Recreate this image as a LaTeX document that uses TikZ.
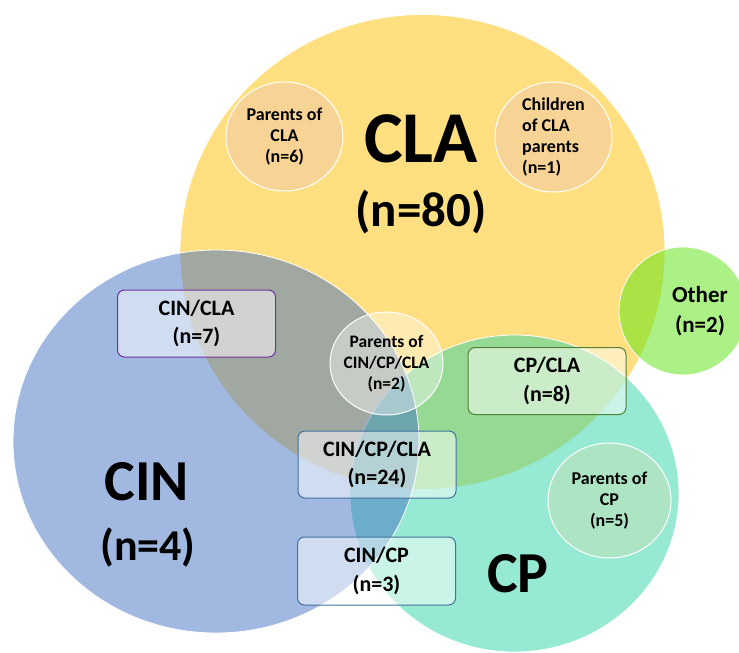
\documentclass[tikz,border=0pt]{standalone}
\usepackage{fontspec}
\setmainfont{Carlito}
\usetikzlibrary{shapes.geometric}
\definecolor{clagold}{RGB}{255,192,0}
\definecolor{cinblue}{RGB}{68,114,196}
\definecolor{cpteal}{RGB}{45,211,167}
\definecolor{othergreen}{RGB}{88,228,14}
\definecolor{parentorange}{RGB}{248,211,150}
\definecolor{parentteal}{RGB}{172,228,196}
\definecolor{boxpurple}{RGB}{112,48,160}
\definecolor{boxblue}{RGB}{65,113,156}
\definecolor{boxgreen}{RGB}{84,130,53}

\begin{document}
\begin{tikzpicture}[x=1pt,y=-1pt,
    set node/.style={ellipse,draw=white,line width=0.8pt,fill opacity=0.5,inner sep=0pt},
    small node/.style={ellipse,draw=white,line width=1pt,inner sep=0pt,align=center,
      font=\fontsize{18}{21}\selectfont\bfseries},
    group box/.style={rectangle,rounded corners=7pt,line width=1pt,fill=white,fill opacity=0.5,
      text opacity=1,minimum width=158pt,minimum height=67pt,align=center,
      font=\fontsize{22}{28.5}\selectfont\bfseries}]
  \useasboundingbox (0,0) rectangle (739,653);

  % the three sets and the extra group
  \node[set node,fill=clagold,minimum width=485pt,minimum height=475pt] (cla) at (422.5,252) {};
  \node[set node,fill=cpteal,minimum width=329pt,minimum height=317pt] (cp) at (514.5,493.5) {};
  \node[set node,fill=cinblue,minimum width=406pt,minimum height=383pt] (cin) at (216,441.5) {};
  \node[set node,fill=othergreen,minimum width=128pt,minimum height=128pt] (other) at (683,311) {};

  % sub groups
  \node[small node,fill=parentorange,minimum width=117pt,minimum height=109pt] (parcla) at (284.5,136.5) {Parents of\\CLA\\(n=6)};
  \node[small node,fill=parentorange,minimum width=117pt,minimum height=110pt] (chcla) at (553.5,137) {};
  \node[small node,fill=parentteal,minimum width=123pt,minimum height=115pt] (parcp) at (609.5,500.5) {Parents of\\CP\\(n=5)};
  \node[small node,fill=white,fill opacity=0.4,text opacity=1,minimum width=113pt,minimum height=103pt] (parall) at (386.5,363.5) {};

  \node[group box,draw=boxpurple] (cincla) at (196.5,323.5) {CIN/CLA\\(n=7)};
  \node[group box,draw=boxgreen] (cpcla) at (547,381) {CP/CLA\\(n=8)};
  \node[group box,draw=boxblue] (cincpcla) at (377,464.5) {CIN/CP/CLA\\(n=24)};
  \node[group box,draw=boxblue,minimum height=68pt] (cincp) at (376.5,571) {CIN/CP\\(n=3)};

  % labels
  \node[align=left,font=\fontsize{18}{21}\selectfont\bfseries] (chtext) at (chcla.center) {Children\\of CLA\\parents\\(n=1)};
  \node[align=center,font=\fontsize{17.5}{21}\selectfont\bfseries] (paralltext) at (parall.center) {Parents of\\CIN/CP/CLA\\(n=2)};
  \node[anchor=base,font=\fontsize{73}{80}\selectfont\bfseries] (clalabel) at (421,162) {CLA};
  \node[anchor=base,font=\fontsize{49}{55}\selectfont\bfseries] (clan) at (421,226) {(n=80)};
  \node[anchor=base,font=\fontsize{58}{64}\selectfont\bfseries] (cinlabel) at (147,500) {CIN};
  \node[anchor=base,font=\fontsize{44}{50}\selectfont\bfseries] (cinn) at (148,560) {(n=4)};
  \node[anchor=base,font=\fontsize{58}{64}\selectfont\bfseries] (cplabel) at (518,592) {CP};
  \node[align=center,font=\fontsize{23}{30}\selectfont\bfseries] (othertext) at (700,311) {Other\\(n=2)};
\end{tikzpicture}
\end{document}
